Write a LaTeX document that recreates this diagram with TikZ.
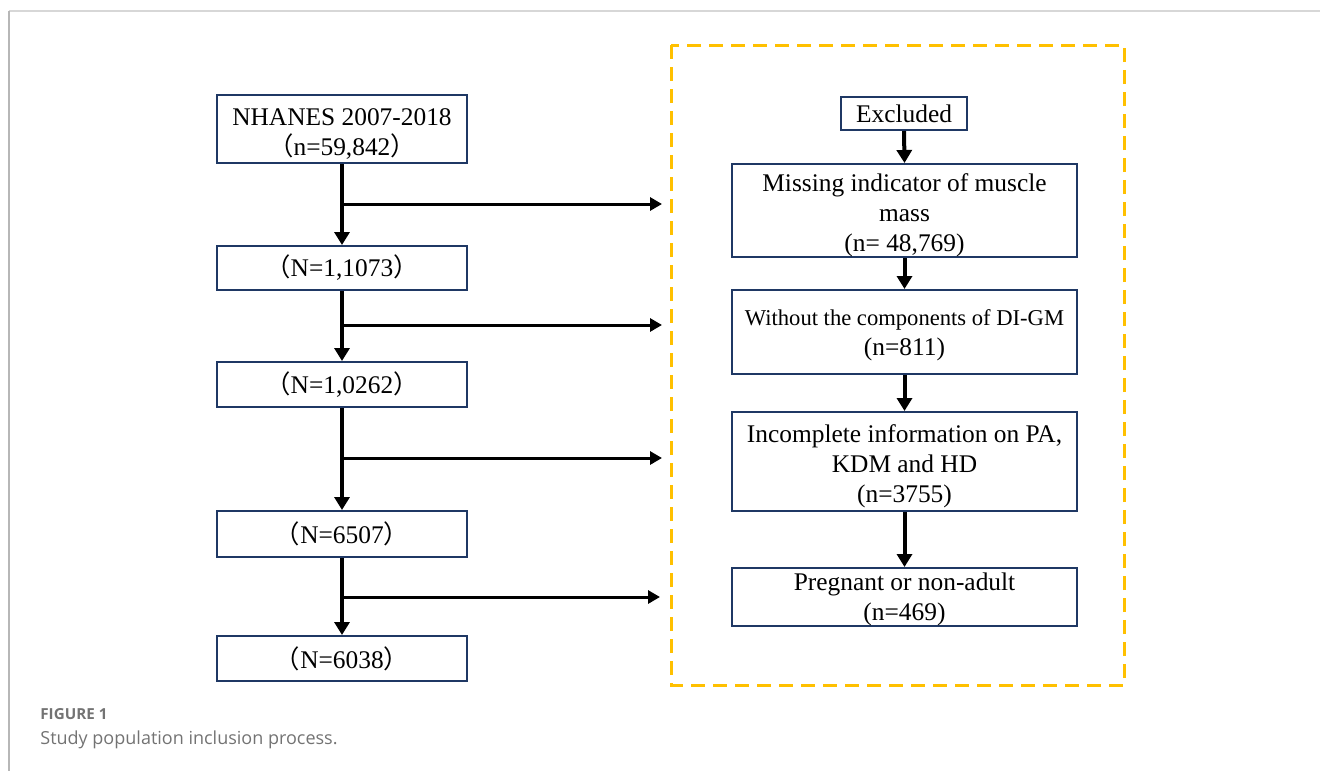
\documentclass[tikz,border=0pt]{standalone}
\usepackage{fontspec}
\setmainfont{Liberation Serif}
\newfontfamily\capfont{Open Sans}
\newfontfamily\cjk{Noto Sans CJK SC}
\usetikzlibrary{arrows.meta}

\definecolor{navy}{RGB}{31,56,100}
\definecolor{amber}{RGB}{255,192,0}
\definecolor{framegray}{RGB}{215,215,215}
\definecolor{capgray}{RGB}{115,115,115}

\newcommand{\lp}{{\cjk （}}
\newcommand{\rp}{{\cjk ）}}
\newcommand{\topgap}[1][13.8pt]{\rule{0pt}{#1}}

\begin{document}
\begin{tikzpicture}[
  x=0.5pt, y=-0.5pt,
  stage/.style={draw=navy, line width=1pt, align=center, inner sep=0pt,
    font=\fontsize{12.7}{15}\selectfont},
  flow/.style={line width=2pt, -{Triangle[width=7.5pt,length=6.5pt]}},
  branch/.style={line width=1.5pt, -{Triangle[width=6.5pt,length=6pt]}}
]
  \useasboundingbox (0,0) rectangle (1320,771);
  \draw[framegray, line width=1pt] (9,10.5) -- (1320,10.5);
  \draw[framegray!85!black, line width=0.6pt] (9,10.5) -- (9,771);

  % included
  \node[stage, minimum width=125pt, minimum height=34pt] (nhanes) at (342,129)
    {\topgap NHANES 2007-2018\\\lp n=59,842\rp};
  \node[stage, minimum width=125pt, minimum height=22pt] (s1) at (342,268) {\lp N=1,1073\rp};
  \node[stage, minimum width=125pt, minimum height=22.5pt] (s2) at (342,384.5) {\lp N=1,0262\rp};
  \node[stage, minimum width=125pt, minimum height=23pt] (s3) at (342,534) {\lp N=6507\rp};
  \node[stage, minimum width=125pt, minimum height=22.5pt] (s4) at (342,658.5) {\lp N=6038\rp};

  \draw[flow] (nhanes.south) -- (s1.north);
  \draw[flow] (s1.south) -- (s2.north);
  \draw[flow] (s2.south) -- (s3.north);
  \draw[flow] (s3.south) -- (s4.north);

  \coordinate (j1) at (342,204);  \coordinate (e1) at (662,204);
  \coordinate (j2) at (342,325);  \coordinate (e2) at (662,325);
  \coordinate (j3) at (342,458);  \coordinate (e3) at (662,458);
  \coordinate (j4) at (342,597);  \coordinate (e4) at (660,597);
  \draw[branch] (j1) -- (e1);
  \draw[branch] (j2) -- (e2);
  \draw[branch] (j3) -- (e3);
  \draw[branch] (j4) -- (e4);

  % excluded
  \draw[amber, line width=1.5pt, dash pattern=on 7pt off 4pt] (671,45) rectangle (1124,685);
  \node[stage, minimum width=63pt, minimum height=16.5pt] (excl) at (904,113.5) {Excluded};
  \node[stage, minimum width=172.5pt, minimum height=46.5pt] (muscle) at (904.5,210.5)
    {\topgap Missing indicator of muscle\\mass\\(n= 48,769)};
  \node[stage, minimum width=172.5pt, minimum height=42pt] (digm) at (904.5,332)
    {\topgap[11pt]{\fontsize{11.3}{15.5}\selectfont Without the components of DI-GM}\\(n=811)};
  \node[stage, minimum width=172.5pt, minimum height=49.5pt] (info) at (904.5,461.5)
    {\topgap Incomplete information on PA,\\KDM and HD\\(n=3755)};
  \node[stage, minimum width=172.5pt, minimum height=29pt] (preg) at (904.5,597)
    {\topgap[11.3pt]Pregnant or non-adult\\(n=469)};

  \draw[flow] (excl.south) -- (muscle.north);
  \draw[flow] (muscle.south) -- (digm.north);
  \draw[flow] (digm.south) -- (info.north);
  \draw[flow] (info.south) -- (preg.north);

  % caption
  \node[anchor=base west, inner sep=0pt, capgray, font=\capfont\fontsize{7.6}{9}\selectfont\bfseries]
    (fig) at (40,719) {FIGURE 1};
  \node[anchor=base west, inner sep=0pt, capgray, font=\capfont\fontsize{9}{11}\selectfont]
    (cap) at (40,744) {Study population inclusion process.};
\end{tikzpicture}
\end{document}
